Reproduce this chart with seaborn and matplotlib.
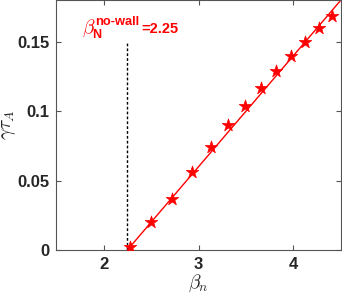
import numpy as np
import pandas as pd
import seaborn as sns
import matplotlib.pyplot as plt

# growth rate vs beta_n
beta_n = [2.275, 2.50, 2.716, 2.928, 3.129, 3.31, 3.49, 3.66, 3.817, 3.976, 4.116, 4.268, 4.41]
gamma_tau = [0.002, 0.020, 0.037, 0.056, 0.0745, 0.0897, 0.1039, 0.1167, 0.129, 0.140, 0.150, 0.1595, 0.1688]

# linear fit line shown in red
fit_x = [2.25, 4.5]
fit_y = [0.0, 0.18]

beta_nowall = 2.25
wall_top = 0.15

xticks = [2, 3, 4]
yticks = [0, 0.05, 0.1, 0.15]
yticklabels = ['0', '0.05', '0.1', '0.15']

sns.set_style('white')
plt.rcParams['font.family'] = ['Liberation Sans', 'DejaVu Sans']
plt.rcParams['mathtext.fontset'] = 'cm'

df = pd.DataFrame({'beta': beta_n, 'gamma': gamma_tau})
df_fit = pd.DataFrame({'beta': fit_x, 'gamma': fit_y})

fig = plt.figure(figsize=(3.42, 2.97), dpi=100)
ax = fig.add_axes([0.164, 0.158, 0.833, 0.842])

sns.lineplot(data=df_fit, x='beta', y='gamma', color='red', lw=1, ax=ax)
sns.scatterplot(data=df, x='beta', y='gamma', marker='*', s=90, color='red',
                edgecolor='red', linewidth=0.5, ax=ax, zorder=3)
ax.plot([beta_nowall, beta_nowall], [0, wall_top], ls=(0, (2, 1.5)), color='black', lw=1)

# annotation: beta_N^{no-wall}=2.25 built from pieces
anchor = (1.778, 0.1566)
ax.annotate(r'$\beta$', anchor, color='red', fontsize=14, va='baseline', ha='left')
ax.annotate('N', anchor, xytext=(10, -5), textcoords='offset pixels', color='red',
            fontsize=9, fontweight='bold', va='baseline', ha='left')
ax.annotate('no-wall', anchor, xytext=(13, 8), textcoords='offset pixels', color='red',
            fontsize=9.3, fontweight='bold', va='baseline', ha='left')
ax.annotate('=2.25', anchor, xytext=(59, 0), textcoords='offset pixels', color='red',
            fontsize=10.5, fontweight='bold', va='baseline', ha='left')

ax.set_xlim(1.5, 4.5)
ax.set_ylim(0, 0.18)
ax.set_xticks(xticks)
ax.set_xticklabels([str(t) for t in xticks], fontsize=12, fontweight='bold', color='#262626')
ax.set_yticks(yticks)
ax.set_yticklabels(yticklabels, fontsize=12, fontweight='bold', color='#262626')
ax.set_xlabel(r'$\beta_n$', fontsize=14, labelpad=0)
ax.set_ylabel(r'$\gamma\tau_A$', fontsize=14)
ax.yaxis.set_label_coords(-0.135, 0.5)

ax.tick_params(direction='in', length=3.5, width=0.8, color='#555555',
               top=True, right=True, bottom=True, left=True, pad=5)
for sp in ax.spines.values():
    sp.set_color('#555555')
    sp.set_linewidth(0.8)

plt.savefig('out.png', dpi=100)
